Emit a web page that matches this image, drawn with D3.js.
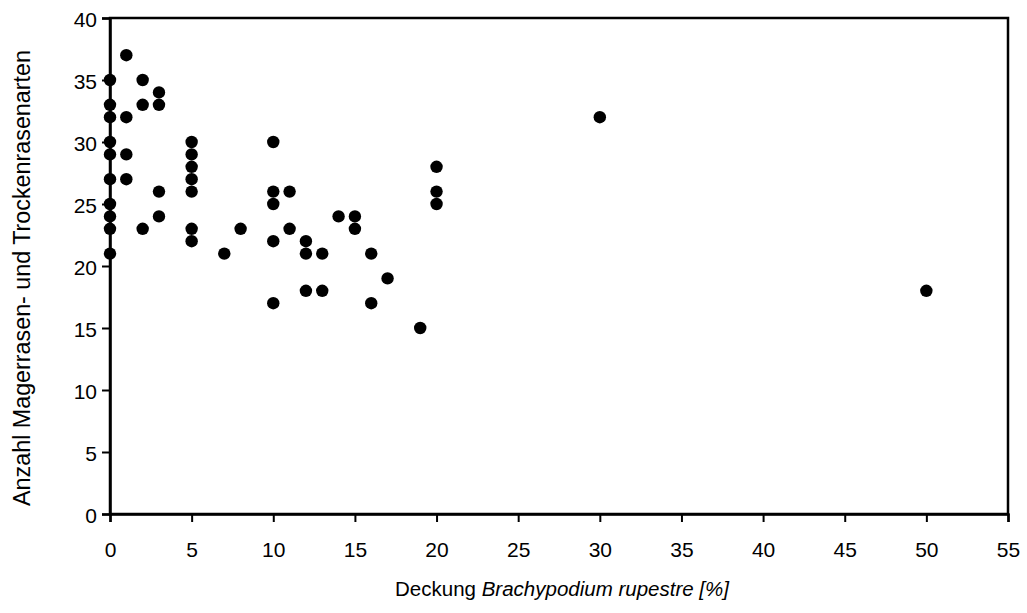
<!DOCTYPE html>
<html>
<head>
<meta charset="utf-8">
<script src="https://cdn.jsdelivr.net/npm/d3@7"></script>
<style>
  html, body { margin: 0; padding: 0; background: #fff; }
  svg { display: block; font-family: "Liberation Sans", Arial, sans-serif; }
</style>
</head>
<body>
<svg id="chart" width="1027" height="613"></svg>
<script>
// Brachypodium cover (%) vs. number of dry/nutrient-poor grassland species
const coverValues = [
  0, 0, 0, 0, 0, 0, 0, 0, 0, 0,
  1, 1, 1, 1,
  2, 2, 2,
  3, 3, 3, 3,
  5, 5, 5, 5, 5, 5, 5,
  7, 8,
  10, 10, 10, 10, 10,
  11, 11,
  12, 12, 12,
  13, 13,
  14,
  15, 15,
  16, 16,
  17, 19,
  20, 20, 20,
  30, 50
];
const speciesCounts = [
  35, 33, 32, 30, 29, 27, 25, 24, 23, 21,
  37, 32, 29, 27,
  35, 33, 23,
  34, 33, 26, 24,
  30, 29, 28, 27, 26, 23, 22,
  21, 23,
  30, 26, 25, 22, 17,
  26, 23,
  22, 21, 18,
  21, 18,
  24,
  24, 23,
  21, 17,
  19, 15,
  28, 26, 25,
  32, 18
];
const xTicks = [0, 5, 10, 15, 20, 25, 30, 35, 40, 45, 50, 55];
const yTicks = [0, 5, 10, 15, 20, 25, 30, 35, 40];
const xTitle = "Deckung ";
const xTitleItalic = "Brachypodium rupestre [%]";
const yTitle = "Anzahl Magerrasen- und Trockenrasenarten";

const points = coverValues.map((c, i) => ({ x: c, y: speciesCounts[i] }));

const svg = d3.select("#chart");
const plot = { left: 110, right: 1008, top: 18, bottom: 514 };

const x = d3.scaleLinear().domain([0, 55]).range([plot.left, plot.right]);
const y = d3.scaleLinear().domain([0, 40]).range([plot.bottom, plot.top]);

// plot frame
svg.append("rect")
  .attr("x", plot.left).attr("y", plot.top)
  .attr("width", plot.right - plot.left).attr("height", plot.bottom - plot.top)
  .attr("fill", "none").attr("stroke", "#000").attr("stroke-width", 2.5);

// axes
const xAxis = svg.append("g")
  .attr("transform", `translate(0,${plot.bottom})`)
  .call(d3.axisBottom(x).tickValues(xTicks).tickSize(8).tickPadding(20).tickFormat(d3.format("d")));
const yAxis = svg.append("g")
  .attr("transform", `translate(${plot.left},0)`)
  .call(d3.axisLeft(y).tickValues(yTicks).tickSize(8).tickPadding(5).tickFormat(d3.format("d")));

[xAxis, yAxis].forEach(g => {
  g.select(".domain").attr("stroke", "#000").attr("stroke-width", 2.5);
  g.selectAll(".tick line").attr("stroke", "#000").attr("stroke-width", 2);
  g.selectAll(".tick text")
    .attr("fill", "#000")
    .style("font-size", "21px")
    .style("font-family", "\"Liberation Sans\", Arial, sans-serif");
});
yAxis.selectAll(".tick text").attr("dy", "0.4em");

// data points
svg.append("g").selectAll("circle")
  .data(points)
  .join("circle")
  .attr("cx", d => x(d.x))
  .attr("cy", d => y(d.y))
  .attr("r", 6.2)
  .attr("fill", "#000");

// axis titles
const xt = svg.append("text")
  .attr("x", 562)
  .attr("y", 596)
  .attr("text-anchor", "middle")
  .style("font-size", "20.5px")
  .attr("fill", "#000");
xt.append("tspan").text(xTitle);
xt.append("tspan").style("font-style", "italic").text(xTitleItalic);

svg.append("text")
  .attr("transform", `translate(30,278) rotate(-90)`)
  .attr("text-anchor", "middle")
  .style("font-size", "23.3px")
  .attr("fill", "#000")
  .text(yTitle);
</script>
</body>
</html>
